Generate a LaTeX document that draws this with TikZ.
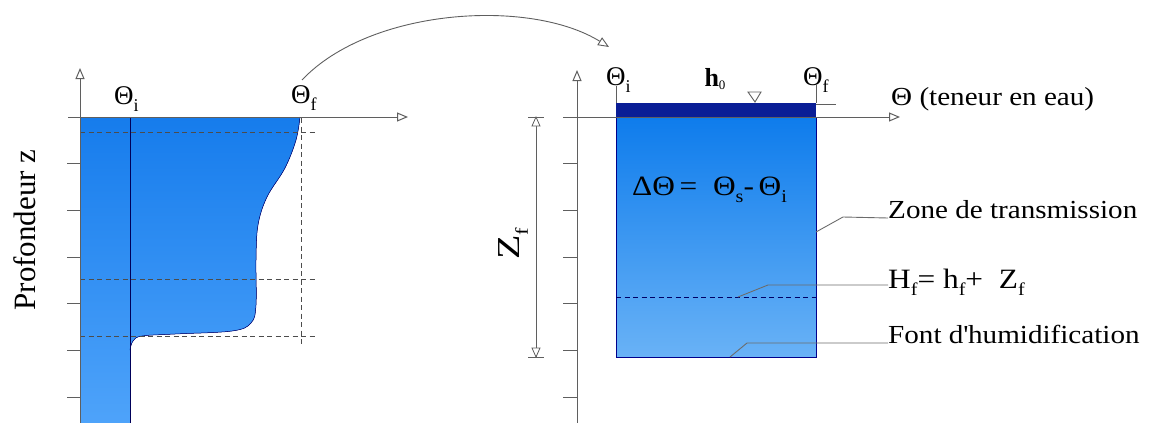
\documentclass[tikz,border=0pt]{standalone}
\usepackage{fontspec}
\setmainfont{Liberation Serif}[FakeStretch=1.12]
\newfontfamily\plainserif{Liberation Serif}
\usetikzlibrary{arrows.meta}
\definecolor{topblue}{RGB}{22,124,236}
\definecolor{botblue}{RGB}{78,163,250}
\definecolor{boxtop}{RGB}{14,124,236}
\definecolor{boxbot}{RGB}{105,178,246}
\definecolor{navyband}{RGB}{10,30,150}
\definecolor{axisgray}{RGB}{95,95,95}
\newcommand{\lowsub}[1]{\raisebox{-0.28em}{\fontsize{18}{18}\selectfont #1}}
\tikzset{
  axisline/.style={draw=axisgray, line width=1pt, -{Triangle[open,length=11pt,width=9pt,fill=white]}},
  tickline/.style={draw=axisgray, line width=1pt},
  dashline/.style={draw=gray!60!black, line width=1pt, dash pattern=on 5pt off 3.5pt},
  leader/.style={draw=gray!85!black, line width=0.9pt},
  lbl/.style={font=\fontsize{26}{30}\selectfont, anchor=base west, inner sep=0pt},
  thlbl/.style={font=\plainserif\fontsize{27}{30}\selectfont, anchor=base west, inner sep=0pt},
}
\begin{document}
\begin{tikzpicture}[x=1pt,y=-1pt]
\useasboundingbox (0,0) rectangle (1149,423);
% ---------------- left panel ----------------
\fill[top color=topblue,bottom color=botblue]
  (80,117) -- (300,117)
  -- plot[smooth,tension=0.6] coordinates {(300,117)(296,140)(285,168)(267,197)(258,225)(256,260)(256,305)(251,323)(232,331)(175,334)(142,336)(133,341)(130,350)}
  -- (130,423) -- (80,423) -- cycle;
\draw[blue!45!black,line width=0.5pt]
  plot[smooth,tension=0.6] coordinates {(300,117)(296,140)(285,168)(267,197)(258,225)(256,260)(256,305)(251,323)(232,331)(175,334)(142,336)(133,341)(130,350)};
\draw[blue!35!black,line width=0.8pt] (130,117) -- (130,423);
% dashed guides
\draw[dashline] (80,132) -- (316,132);
\draw[dashline] (80,279) -- (316,279);
\draw[dashline] (80,336) -- (316,336);
\draw[dashline] (301,118) -- (301,346);
% axes
\coordinate (lvbot) at (80,423);
\coordinate (lvtop) at (80,68);
\coordinate (lhl) at (68,117);
\coordinate (lhr) at (408,117);
\draw[axisline] (lvbot) -- (lvtop);
\draw[axisline] (lhl) -- (lhr);
\foreach \yy in {163,210,257,303,350,397} \draw[tickline] (67,\yy) -- (80,\yy);
\node[thlbl] (lthi) at (114,104) {Θ\lowsub{i}};
\node[thlbl] (lthf) at (291,103) {Θ\lowsub{f}};
\node[font=\plainserif\fontsize{31}{34}\selectfont, rotate=90, inner sep=0pt] (prof) at (25,230) {Profondeur z};
% connecting arc
\coordinate (arcs) at (302,80);
\coordinate (arce) at (609,47);
\draw[draw=axisgray, line width=0.9pt, -{Triangle[open,length=11pt,width=9pt,fill=white]}]
  (arcs) .. controls (370,8) and (530,-2) .. (arce);
% ---------------- right panel ----------------
\fill[top color=boxtop,bottom color=boxbot] (616,117) rectangle (816,357);
\draw[blue!55!black,line width=0.6pt] (616,117) rectangle (816,357);
\fill[navyband] (616,103) rectangle (816,117);
\draw[dashline,draw=blue!40!black] (616,297) -- (816,297);
\draw[tickline] (616,86) -- (616,103);
\draw[tickline] (816,85) -- (816,103);
\draw[tickline,line width=0.8pt] (816,104) -- (836,104);
\draw[axisgray,line width=0.9pt] (748,92) -- (761,92) -- (755,102) -- cycle;
% axes
\coordinate (rvbot) at (577,423);
\coordinate (rvtop) at (577,70);
\coordinate (rhl) at (563,117);
\coordinate (rhr) at (900,117);
\draw[axisline] (rvbot) -- (rvtop);
\draw[axisline] (rhl) -- (rhr);
\foreach \yy in {163,210,257,303,350,397} \draw[tickline] (563,\yy) -- (577,\yy);
% dimension Zf
\coordinate (dimt) at (536,117);
\coordinate (dimb) at (536,357);
\draw[axisgray,line width=0.9pt] (dimt) -- (dimb);
\draw[axisgray,line width=0.9pt] (528,117) -- (544,117) (528,357) -- (544,357);
\draw[axisgray,line width=0.8pt,fill=white] (536,117) -- (532,126) -- (540,126) -- cycle;
\draw[axisgray,line width=0.8pt,fill=white] (536,357) -- (532,348) -- (540,348) -- cycle;
\node[rotate=90, inner sep=0pt, anchor=base] (zf) at (519,244) {\scalebox{1.25}[1]{\plainserif\fontsize{32}{34}\selectfont Z\lowsub{f}}};
% labels on top
\node[thlbl] (rthi) at (606,85) {Θ\lowsub{i}};
\node[thlbl] (rthf) at (803,85) {Θ\lowsub{f}};
\node[font=\plainserif\fontsize{26}{28}\selectfont, anchor=base, inner sep=0pt] (h0) at (715,86) {\textbf{h}\raisebox{-0.15em}{\fontsize{13}{13}\selectfont 0}};
\node[font=\fontsize{28}{30}\selectfont, anchor=base west, inner sep=0pt] (dth) at (632,195)
  {ΔΘ\,=\ \ Θ\lowsub{s}-\,Θ\lowsub{i}};
\node[lbl] (teneur) at (891,105) {Θ (teneur en eau)};
% leaders and labels
\node[lbl] (zone) at (888,218) {Zone de transmission};
\node[lbl,font=\fontsize{28}{30}\selectfont] (hf) at (888,288) {H\lowsub{f}=\ h\lowsub{f}+\ \ Z\lowsub{f}};
\node[lbl] (font) at (888,343) {Font d\textquotesingle humidification};
\coordinate (zs) at (816,232);
\coordinate (hs) at (738,297);
\coordinate (fs) at (730,357);
\draw[leader] (zs) -- (843,217) -- (zone.base west);
\draw[leader] (hs) -- (768,285) -- (hf.base west |- 0,285);
\draw[leader] (fs) -- (747,343) -- (font.base west);
\end{tikzpicture}
\end{document}
